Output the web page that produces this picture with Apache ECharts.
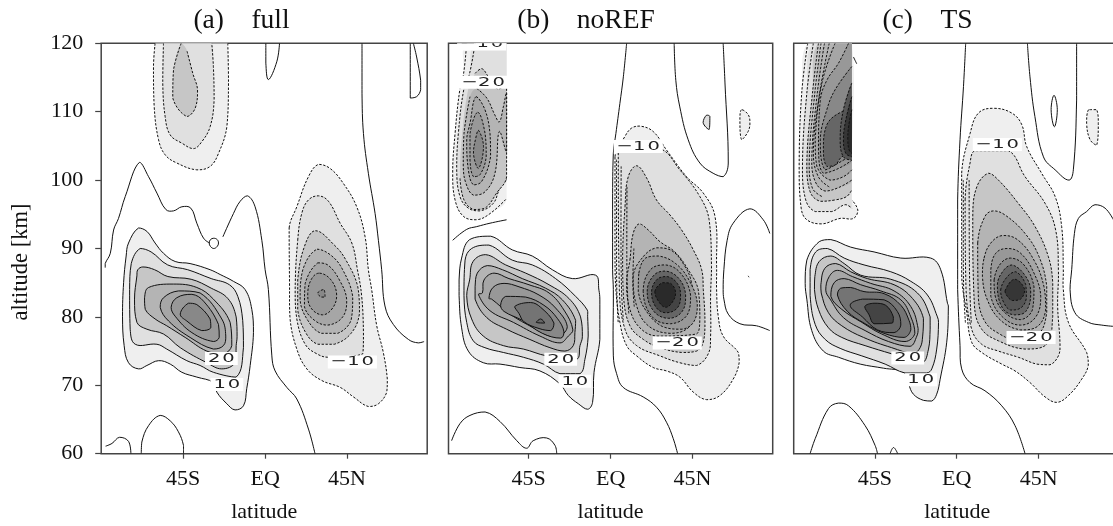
<!DOCTYPE html>
<html>
<head>
<meta charset="utf-8">
<style>html,body{margin:0;padding:0;background:#fff}#chart{width:1113px;height:526px}</style>
<script src="https://cdn.jsdelivr.net/npm/echarts@6/dist/echarts.min.js"></script>
</head>
<body>
<div id="chart"></div>
<script>
const latTicks = [-45, 0, 45];
const latLabels = ["45S", "EQ", "45N"];
const altTicks = [60, 70, 80, 90, 100, 110, 120];
const titles = ["(a)\u00a0\u00a0\u00a0\u00a0full", "(b)\u00a0\u00a0\u00a0\u00a0noREF", "(c)\u00a0\u00a0\u00a0\u00a0TS"];

// contour lines as [latitude, altitude]; panel (a)
const aZero1 = [[-87.8,87.2],[-87.8,87.8],[-85,89.3],[-83.2,92.7],[-80.5,94.4],[-76.8,97.6],[-69,102.6],[-64,100.5],[-59.4,98.1],[-54.5,95.7],[-50.3,95.5],[-45.7,96.1],[-40.8,95.9],[-37.5,93.7],[-33.8,91.5],[-30.5,90.8]];
const aZero2 = [[-23.2,91.7],[-17.4,95.1],[-13.7,96.9],[-9.7,97.7],[-5.5,96.1],[-1.8,91.2],[0,86.9],[1.8,84],[3.7,74.3],[5.5,72.1],[11.9,69.7],[17.4,68],[23.8,63.6],[27.4,60]];
const aRing = [[-30.7,90.8],[-30,91.3],[-28.2,91.5],[-26.3,91.3],[-25.6,90.8],[-26.3,90.3],[-28.2,90],[-30,90.3]];
const aZero3 = [[-87.6,61.1],[-84.1,61.5],[-79.9,62.4],[-75,61.8],[-73.7,60]];
const aZero4 = [[-68,60],[-67.7,61.7],[-64,64.1],[-57.6,65.6],[-52.1,64.8],[-47.6,63.2],[-44.8,61.2],[-44.8,60]];
const aZero5 = [[53.2,120],[53.2,112.7],[54,106.8],[56.7,101],[60.4,95.1],[62.2,91.2],[64,86.9],[65.8,81.6],[70.4,78.9],[78.7,76.7],[84.1,76.2],[87.3,76.4]];
const aZero6 = [[0.4,120],[0.4,117.1],[1.8,114.7],[6.4,117.3],[7.9,120]];
const aZero7 = [[81.4,120],[83.2,118],[85.4,114.6],[85.4,113.2],[83.2,112.2],[79.7,112],[79.7,120]];
const aTop1 = [[-60.4,120],[-61.3,116.6],[-60.9,110.7],[-58.5,105.9],[-54.9,103.7],[-48.5,102.5],[-37.5,101.5],[-30.2,102],[-25.6,103.9],[-21,107.8],[-20.1,114.2],[-20.5,120]];
const aTop2 = [[-55.8,120],[-56.2,114.2],[-54.9,109.3],[-52.1,106.6],[-45.7,105.4],[-39.3,104.6],[-34.8,105.6],[-30.2,107.8],[-28,111.7],[-28.4,116.6],[-29.3,120]];
const aTop3 = [[-46.1,120],[-50.3,116.1],[-50.7,112],[-43,109.3],[-38.4,110.5],[-37.1,113.2],[-39.7,115.6],[-43,119]];
const aPos1 = [[-75,90.8],[-69.5,93],[-64.9,92.5],[-60.4,90.8],[-55.8,89.3],[-49.4,88.1],[-41.2,87.8],[-30.2,86.9],[-24.7,86.2],[-17.4,85.2],[-11,84],[-7.3,81.1],[-6.4,77.7],[-8.2,72.9],[-10.1,69.5],[-11.9,67],[-16.5,66.4],[-21,67.3],[-26.5,69],[-28.4,70.4],[-37.5,71.2],[-45.7,71.9],[-52.1,73.1],[-58.5,73.6],[-64.9,72.9],[-69.5,72.4],[-75,73.3],[-77.4,75.8],[-78.3,80.1],[-77.7,85],[-76.3,88.9]];
const aPos2 = [[-73.5,87.8],[-68.6,90],[-62.6,89.5],[-53.5,87.6],[-42.5,86.9],[-29.6,85.6],[-19.6,84.7],[-15,83],[-12.3,79.5],[-11.9,75.5],[-15.9,71.2],[-28.4,71.9],[-35.7,72.9],[-43,73.6],[-54,75.3],[-59.4,76],[-71.3,76],[-74.1,78.2],[-74.4,84]];
const aPos3 = [[-69.9,86.9],[-67.1,87.3],[-60.7,86.9],[-53.4,85.9],[-40.6,85.5],[-29.6,84.2],[-20.5,82.7],[-15.9,80],[-15.4,77.1],[-15.9,75.8],[-16.5,73.3],[-23.8,72.4],[-32,73.3],[-46.6,75.5],[-55.8,77.5],[-64.9,78.2],[-70.4,79.2],[-71.7,82.6],[-70.4,86]];
const aPos4 = [[-66.2,82.8],[-64,84.3],[-50.3,84.8],[-37.5,84.3],[-28.4,82.6],[-19.2,79.2],[-18.3,75.8],[-22.9,74.6],[-32,75],[-43.9,77],[-54,78.7],[-60.4,79.7],[-65.8,81.1]];
const aPos5 = [[-57.6,81.4],[-55.8,82.8],[-47.6,83.8],[-35.7,83.5],[-23.8,79.7],[-21.6,77.2],[-22.9,75.8],[-28.4,75.3],[-41.2,77],[-53,79.4]];
const aPos6 = [[-51.6,81.4],[-48.5,82.8],[-40.2,83.3],[-33.8,82.3],[-25.6,78.9],[-25.2,77],[-28.4,76.4],[-40.2,77.7],[-49.4,80.1]];
const aPos7 = [[-46.6,80.4],[-42.1,82],[-37.5,81.8],[-30.2,79.7],[-29.8,78.4],[-34.8,78],[-43,79.4]];
const aNeg1 = [[13.2,93],[17.4,96.1],[23.8,100.5],[29.3,102.3],[35.7,101.7],[43,99.5],[50.3,96.1],[54.9,91.7],[56.7,86.9],[58.5,84],[61.3,78.7],[64.9,74.8],[67.1,70.9],[66.8,69],[62.2,67.3],[56.7,66.9],[48.5,68.3],[41.2,69.7],[31.1,70.7],[22.9,72.4],[17.4,75.3],[13.7,79.7],[13.4,85]];
const aNeg2 = [[17.9,91.2],[20.1,95.1],[23.8,97.1],[29.3,97.7],[34.8,96.9],[41.2,93.7],[47.6,90.8],[50.7,86.9],[53,83.1],[54,77.7],[53.6,74.6],[34.8,74.1],[28.4,74.6],[22,76],[17.4,79.7],[16.5,84]];
const aNeg3 = [[27.6,92.6],[38,90.5],[44.4,88.3],[50.9,84.4],[51.8,80.5],[47.2,77.6],[38,76],[28.9,76],[22.5,77.6],[17.9,81],[17.9,85.4],[21.6,90.3]];
const aNeg4 = [[28.5,89.9],[36.2,89],[42.6,86.9],[48.1,83],[47.2,79.5],[39.9,77.6],[30.7,77.6],[23.4,79.5],[19.2,82.5],[20.7,86.9]];
const aNeg5 = [[28.9,87.9],[34.4,87.6],[40.8,85.4],[44.8,82.5],[42.6,80],[34.4,78.8],[27.1,79.5],[21.6,81.5],[22,84.9]];
const aNeg6 = [[29.8,86.4],[36.2,85.4],[39.3,83.2],[37.1,81.3],[31.6,80.3],[25.2,81.3],[23.4,83.4],[25.6,85.6]];
const aNeg7 = [[28.9,83.5],[32.2,84],[32.9,82.9],[30.7,82.9]];

// panel (b)
const bZero1 = [[8.8,120],[7,115.1],[5.1,111.2],[2.9,106.8],[1.5,103.9],[1.1,97.1],[1.1,86.9],[1.5,84],[1.5,74.3],[3.3,71.7],[6.9,69.7],[17.9,68.3],[25.2,66.8],[30.7,64.6],[34.4,62.2],[36.8,60]];
const bZero2 = [[34.9,120],[35.8,114.6],[38,110.7],[42.6,105.9],[49,102.5],[56.3,101],[61.8,100.5],[64.6,102.5],[62.8,114.2],[61.8,120]];
const bZero3 = [[87.4,92.2],[83.8,94.2],[76.5,95.8],[67.3,93.7],[64,91.2],[62.2,86.9],[61.8,84],[62.2,82.6],[64.6,80.4],[71,79],[80.1,78.7],[87.4,78]];
const bZero4 = [[-87.3,61.9],[-82.7,64.4],[-77.2,65.6],[-68.9,66.1],[-60.7,64.7],[-51.5,61.9],[-46.1,60.8],[-42.5,61.9],[-35.1,62.3],[-30.5,61.2],[-29.6,60]];
const bZero5 = [[-86.7,91.2],[-79,92.8],[-73.5,93.2],[-66.2,93.7],[-57.1,94.2]];
const bDot = [[75.5,86],[76,85.8]];
const bIsle1 = [[52.7,109.5],[50.8,108.4],[54.1,107.4],[54.5,109.3]];
const bIsle2 = [[71.9,110.3],[71,108.9],[71.9,105.9],[75.5,107.1],[76.5,108.4],[75.5,109.6]];
const bTop1 = [[-79,120],[-80.8,115.4],[-82.7,113.4],[-85.4,106.8],[-86.7,101],[-85.4,97.1],[-80.8,94.7],[-73.5,94.2],[-66.2,95.1],[-57.1,97.3],[-57.1,120]];
const bTop2 = [[-74.4,120],[-77.6,115.4],[-80.5,113.4],[-83.6,106.8],[-84.5,101.5],[-82.7,97.6],[-78.1,95.9],[-71.7,95.5],[-64.4,96.6],[-61.1,98.6],[-57.1,100.1],[-57.1,120]];
const bTop3 = [[-74.4,115.6],[-70.8,116.3],[-67.1,115.1],[-62.6,113.4],[-57.1,113.4],[-57.1,100.5],[-62.6,98.1],[-68.9,95.9],[-75.3,95.7],[-80.5,97.1],[-82.7,100.3],[-81.8,105.9],[-78.1,113.4]];
const bTop4 = [[-73.5,113.4],[-68,112],[-63.5,109.5],[-61.1,108.5],[-58.9,110.7],[-57.1,112.7],[-57.1,104.2],[-61.1,107.1],[-63.5,101],[-68.9,98.3],[-75.3,97.8],[-79.4,99.5],[-80.9,102],[-80.5,106.8],[-77.2,112.2]];
const bTop5 = [[-73.9,112.2],[-69,110.3],[-66.2,106.8],[-65.9,103.4],[-70.8,99.8],[-75.3,99.3],[-78.1,101.5],[-79,105.9],[-77.2,108.3]];
const bTop6 = [[-72.9,109.9],[-68.9,106.8],[-68.3,103.4],[-71.7,100.8],[-75.3,100.5],[-77.2,102.9],[-77.2,106.8]];
const bTop7 = [[-72.6,107.3],[-69.8,104.9],[-72.6,101.7],[-75.3,103.9],[-73.9,106.3]];
const bPos1 = [[-83.2,85.4],[-81.8,88.6],[-77.4,91.3],[-65.8,91.8],[-54,89.8],[-43,88.9],[-32,86.9],[-21,85.6],[-8.2,86.1],[-6.4,83.9],[-5.9,82.6],[-5.9,76.7],[-9.1,71.9],[-9.9,67.5],[-12.6,66.5],[-17.7,67.3],[-23.2,68.5],[-27.8,70.2],[-38.8,72.1],[-49.8,72.6],[-60.7,73.1],[-69.9,73.3],[-78.1,75],[-81.8,78.4],[-83.2,83.1]];
const bPos2 = [[-79.9,88.3],[-76.3,90],[-66.8,90.5],[-54,88.3],[-43,87.6],[-30.2,85.6],[-19.2,83],[-12.8,81],[-12.6,80.1],[-12.3,77.2],[-14.1,73.8],[-16.8,71.7],[-27.8,71.7],[-36.9,73.1],[-47.9,74.1],[-58.9,74.8],[-69,75.5],[-75.4,76.5],[-79,79.2],[-80.5,83.1]];
const bPos3 = [[-77.4,85.4],[-75.5,88.1],[-68.6,89.1],[-57.6,87.6],[-46.6,86.4],[-33.8,84.7],[-22.9,82.7],[-16.5,80],[-15.5,77.1],[-16.8,75.8],[-18.7,73.8],[-35.1,74.3],[-47.9,75.3],[-58.9,75.8],[-69.9,77.2],[-76.3,79.7],[-79,83.1]];
const bPos4 = [[-74.4,84.4],[-73.2,86.4],[-67.7,87.5],[-59.4,86.9],[-48.5,85.6],[-35.7,84.2],[-26.5,82.5],[-19.2,79.5],[-19.6,77.7],[-20.5,75.8],[-25.1,75],[-33.3,75.5],[-44.3,76.7],[-57.1,78.2],[-68,79.9],[-74.4,82.6]];
const bPos5 = [[-70.4,83.5],[-69.5,85.4],[-64,86.4],[-55.8,85.6],[-44.8,84.7],[-33.8,83.5],[-25.6,81],[-20.7,78.1],[-23.2,77.2],[-27.8,76.2],[-38.8,77.2],[-53.4,79.2],[-66.2,80.9],[-72.6,83.3]];
const bPos6 = [[-66.8,82.7],[-64.6,84.3],[-58.5,84.9],[-50.3,84.4],[-39.3,83.2],[-30.2,81.3],[-23.8,78.6],[-27.8,77.2],[-33.3,77.2],[-42.4,78.4],[-55.2,80.4],[-65.3,82.6]];
const bPos7 = [[-60.4,81.7],[-57.6,83],[-46.6,82.9],[-36.6,81.7],[-29.3,79.8],[-25.6,77.8],[-27.4,76.9],[-37.5,77.6],[-48.5,79.5],[-58.5,80.8]];
const bPos8 = [[-52.7,81.5],[-43.9,82.1],[-38.4,81.4],[-31.1,79.1],[-32.9,78],[-39.3,78.3],[-47.6,79.3],[-50.3,80.5]];
const bPos9 = [[-40.8,79.2],[-38.4,79.7],[-36.2,79.1]];
const bNeg1 = [[2.4,103.4],[7.9,106.4],[11.5,107.6],[16.1,107.9],[23.4,107.1],[30.7,104.4],[41.7,100.5],[50.9,98.1],[57.3,94.7],[58.2,87.4],[58.2,84],[59.1,80.1],[61.8,77.2],[70.1,74.8],[70.6,73.3],[67.3,70.9],[60,68.5],[52.7,67.9],[45.4,69],[38,71.2],[30.7,72.1],[23.4,72.6],[14.3,74.3],[8.8,75.8],[5.1,79.2],[2.9,84],[2.4,88.9]];
const bNeg2 = [[4.2,104.6],[27.1,104.6],[38,101.5],[49,97.6],[54.1,94.2],[55.4,87.4],[54.9,83.1],[54.9,77.2],[53.6,74.6],[47.2,72.9],[38,73.3],[27.1,74.3],[14.3,75.8],[7.9,78.2],[4.8,84]];
const bNeg3 = [[7.9,96.1],[9.7,100.5],[14.3,102.1],[19.8,100.3],[25.2,97.1],[32.6,94.9],[39,92.7],[45.4,89.8],[50,86.9],[50.9,84],[51.8,79.2],[50.9,76.3],[47.2,75],[39,74.8],[27.1,75.5],[18,76.7],[10.6,78.7],[7,83.1],[6.6,88.9]];
const bNeg4 = [[10.6,88.3],[12.4,92.2],[15.7,93.6],[20.7,92.7],[27.1,91],[35.3,89.5],[42.6,86.9],[48.1,84],[49,79.7],[47.2,77.5],[25.2,77.2],[16.1,78.4],[10.6,81.1],[8.8,85]];
const bNeg5 = [[17.9,88.8],[25.2,90.1],[33.5,89.7],[40.8,87.4],[44.4,85],[45.7,80.6],[42.6,78.4],[32.6,77.6],[20.7,78.7],[14.3,81.6],[12.4,86]];
const bNeg6 = [[15.5,86.4],[19.2,88.6],[26.5,88.9],[35.7,87.8],[43,85.4],[47.6,82],[45.7,79.3],[39.3,78.2],[28.4,78.6],[19.2,81],[15.2,83.7]];
const bNeg7 = [[17.9,83.7],[21.9,86.9],[30.2,87.6],[38.4,86.4],[43.9,83.2],[42.1,80.3],[32.9,79],[22.9,80]];
const bNeg8 = [[20.1,83.7],[23.8,86.1],[30.2,86.7],[37.5,85.6],[41.2,83.2],[39.3,80.8],[32,79.8],[23.8,80.8]];
const bNeg9 = [[22.5,83.7],[25.6,85.5],[31.1,85.9],[36.6,84.9],[38.4,83.2],[36.6,81.3],[30.2,80.6],[24.7,81.5]];
const bNeg10 = [[24.3,83.7],[28.4,85],[33,84.9],[35.7,83.5],[33.5,82],[30.2,81.4],[26.5,82.2]];
const bDash1 = [[3.2,103],[3.3,92],[3.4,84],[4.2,79]];
const bDash2 = [[5.8,102],[5.7,92],[6,84],[7,79.5]];
const bDash3 = [[9,99],[8.9,90],[9.2,84],[10,80.5]];
const bDash4 = [[12.8,90],[12.2,85],[13,81.5]];

// panel (c)
const cZero1 = [[4.9,120],[3.7,113.7],[1.8,105.9],[0.5,97.1],[0.5,86.9],[0.5,84],[1.8,75.8],[2.7,72.4],[7.3,70.4],[15.5,69.2],[24.7,67],[32,64.1],[37.5,60]];
const cZero2 = [[38.8,120],[40.2,115.1],[42.9,109.3],[47.6,103.4],[54,101.5],[61.6,100],[64,101.5],[65.8,111.7],[65.8,120]];
const cZero3 = [[86,94.2],[81.4,95.9],[75.9,96.4],[71.3,95.4],[66.8,94.4],[64.6,92.2],[63.1,86.9],[62.2,84],[64.9,80.6],[72.3,79.2],[79.6,78.8],[86.9,78.6]];
const cZero4 = [[-80.5,60],[-77.7,62.2],[-70.4,66.6],[-64.9,67.4],[-59.4,67],[-50.3,64.1],[-44.8,61.2],[-43.5,60]];
const cZero5 = [[-36.6,60],[-34.7,60.9],[-32.4,60]];
const cZero6 = [[-87.3,90.2],[-80.5,91.7],[-74.1,92.2],[-63.1,92.4],[-53.9,91.9]];
const cTick = [[-56.7,118],[-54.9,117]];
const cIsle1 = [[53.4,112.4],[51.8,110.3],[53.6,107.8],[55.2,110.3]];
const cIsle2 = [[72.3,110.3],[71.3,108.3],[73.2,105.9],[76.8,105.1],[77.7,108.3],[76.8,110.3]];
const cTop1 = [[-81.8,120],[-85.1,112.7],[-86.5,102],[-85.4,95.9],[-82.3,94.2],[-74.1,93.6],[-64,94.4],[-56.7,94.4],[-54.3,95.6],[-57.6,97.1],[-57.6,120]];
const cTop2 = [[-78.7,120],[-82.3,112.7],[-84.7,102],[-82.9,97.1],[-77.7,95.4],[-68.6,95.4],[-61.3,96.4],[-57.6,95.9],[-57.6,120]];
const cTop3 = [[-75.9,120],[-79.2,112.7],[-82.3,102.5],[-80.5,98.3],[-75,96.9],[-66.8,97.1],[-60.4,97.6],[-57.6,98.6],[-57.6,120]];
const cTop4 = [[-72.6,120],[-76.8,112.2],[-79.6,103],[-77.7,99.8],[-72.3,98.4],[-64.9,98.9],[-57.6,100],[-57.6,120]];
const cTop5 = [[-66.8,120],[-74,114.2],[-77.7,105.9],[-76.8,102],[-69.5,100],[-62.2,100.5],[-57.6,101.5],[-57.6,120]];
const cTop6 = [[-59.4,120],[-64.9,117.1],[-71.3,114.6],[-74.9,111.7],[-75.9,104.4],[-73.2,101],[-64.9,101.7],[-57.6,102.9],[-57.6,120]];
const cTop7 = [[-57.6,116.6],[-66.8,113.2],[-71.3,110.3],[-74.9,105.9],[-72.3,101.5],[-64.9,102.5],[-57.6,103.7]];
const cTop8 = [[-57.6,110],[-63.1,110],[-71.3,108.1],[-73.2,104.4],[-71.3,102],[-66.8,102.2],[-63.1,103.4],[-57.6,103.9]];
const cTop9 = [[-57.6,114.2],[-62.2,110.3],[-64,105.9],[-62.2,103.4],[-57.6,102.9]];
const cTop10 = [[-57.6,112.2],[-60.9,108.8],[-62.2,105.9],[-60.9,103.9],[-57.6,103.4]];
const cTop11 = [[-57.6,110.3],[-59.4,107.8],[-59.8,105.9],[-59.1,104.4],[-57.6,103.9]];
const cTopDash1 = [[-74.5,120],[-78,112.5],[-81,102.5],[-79.2,98.8],[-74,97.6]];
const cTopDash2 = [[-70,120],[-75.5,112.3],[-78.7,104],[-76,100.5],[-70,99]];
const cPos1 = [[-83.2,84.9],[-82.3,88.3],[-75.5,91],[-69.1,91.3],[-58.2,90.2],[-45.4,89.5],[-30.7,88.6],[-14.3,88.6],[-8.8,86.9],[-5.1,82],[-4.6,81.6],[-5.5,76.3],[-9.1,70.9],[-11,68.7],[-13.7,67.7],[-18.3,67.8],[-23.8,68.7],[-26.5,70.2],[-29.3,71.9],[-40.2,72.5],[-53,73.1],[-64.9,74.1],[-73.2,75],[-79.6,78],[-82.3,82.6]];
const cPos2 = [[-80.5,86.9],[-77.4,89.5],[-71,90],[-61.8,88.6],[-50.9,87.6],[-36.2,86.6],[-25.2,85.2],[-16.1,83.2],[-10.6,80],[-10,79.2],[-11,75.3],[-13.7,72.4],[-16.5,71.8],[-28.4,71.8],[-39.3,73.1],[-52.1,74.3],[-64,75.4],[-72.2,76.7],[-77.7,78.9],[-80.5,83.1]];
const cPos3 = [[-77.9,85.9],[-75.5,88.1],[-69.1,88.9],[-61.8,87.8],[-52.7,86.1],[-36.2,85.5],[-21.6,83.5],[-14.6,80],[-14.6,78.2],[-15.5,75.3],[-19.2,73.3],[-35.7,74.6],[-50.3,75.8],[-63.1,77],[-70.4,78.4],[-75.9,81.1],[-78.1,84]];
const cPos4 = [[-74.6,84.7],[-72.4,87.1],[-66.4,87.8],[-58.2,86.6],[-49,85.6],[-34.4,84.7],[-24.3,82.7],[-18.3,79.8],[-18.7,77.2],[-20.1,75.5],[-23.8,74.7],[-35.7,75.5],[-51.2,77],[-63.1,78.7],[-70.4,80.6],[-74.4,83.5]];
const cPos5 = [[-71.9,83.9],[-70,85.9],[-65.5,86.8],[-57.3,85.9],[-47.2,84.9],[-34.4,83.8],[-25.2,81.5],[-21.2,78.3],[-21.9,77.2],[-25.6,75.7],[-37.5,76.4],[-50.3,78],[-62.2,79.9],[-69.5,82.6]];
const cPos6 = [[-69.1,83],[-67.3,85],[-61.8,85.6],[-52.7,84.7],[-41.7,83.8],[-30.7,82.5],[-25.2,80],[-23,77.6],[-28.4,76.4],[-41.2,77.5],[-52.1,79.2],[-63.1,81.1]];
const cPos7 = [[-65.5,83.2],[-63.7,84.2],[-58.2,84.3],[-50.9,83.7],[-39.9,83.4],[-30.7,81.7],[-26.2,79.5],[-25.2,78.1],[-28.9,77],[-39.9,77.6],[-50.9,79.1],[-60,80.8]];
const cPos8 = [[-58.5,81.7],[-51.8,82.6],[-39.9,82.5],[-32.6,80.8],[-30.7,78.8],[-34.4,77.7],[-43.5,78.1],[-51.8,80]];
const cPos9 = [[-50.5,81.5],[-45.4,82],[-39,81.7],[-34.8,80],[-35.3,79.1],[-45.4,79],[-48.1,80.3]];
const cNeg1 = [[2.7,101],[7.3,106.8],[11.9,109.8],[20.1,110.5],[30.2,109.8],[35.7,108.1],[38.4,104.9],[46.6,101],[54,97.6],[57.6,93.2],[58.5,86.9],[58.5,84],[61.3,79.2],[71.3,74.8],[72.2,72.9],[68.6,70.9],[61.3,68.5],[54.9,67.5],[48.5,68.3],[40.2,70.4],[32,72.1],[24.7,73.1],[13.7,74.8],[8.2,76.3],[5.5,80.6],[2.7,86]];
const cNeg2 = [[4.6,97.1],[7.3,102.5],[10.1,104.3],[28.4,104.3],[37.5,100.5],[48.5,96.6],[54.3,92.7],[55.8,86.9],[55.4,81.6],[56.7,75.8],[55.8,74.3],[51.2,73],[43.9,73.1],[33.8,74.1],[22.9,75],[13.7,76],[8.2,78.2],[5.1,84]];
const cNeg3 = [[8.8,94.7],[11,99],[17.4,101],[22.9,100],[33.8,96.6],[43,93.2],[50.3,88.8],[52.7,85],[52.7,80.1],[49.4,76],[37.5,75.3],[22.9,76.5],[13.7,78.2],[9.7,81.6]];
const cNeg4 = [[11.5,90.8],[15.5,94.7],[20.1,95.5],[26.5,94.9],[37.5,92.2],[45.2,88.8],[49.4,84.5],[49.4,80.6],[44.8,77.5],[32,76.7],[22.9,77.6],[15.5,79.3],[11.9,82.6]];
const cNeg5 = [[15,88.6],[18.7,90.8],[25.1,91.9],[33.3,91.3],[42.4,88.3],[47.9,84.4],[48.8,81],[44.3,78.6],[35.1,78.1],[24.1,79.5],[16.8,82.5],[14.1,85.9]];
const cNeg6 = [[18.7,86.9],[21.4,89.3],[27.8,90],[35.1,89.3],[42.4,86.4],[46.1,83],[43.4,80],[35.1,78.8],[25.1,80],[18.7,83]];
const cNeg7 = [[20.5,85.4],[24.1,87.8],[29.6,88.6],[36.9,87.6],[42.4,84.4],[41.5,81],[35.1,79.6],[26.9,80.5],[21.4,82.7]];
const cNeg8 = [[22.3,84.7],[26,86.9],[30.5,87.6],[37.9,85.9],[40.6,83.5],[37.9,80.8],[31.5,80.3],[25.1,81.3]];
const cNeg9 = [[24.1,83.9],[27.8,85.9],[32.4,86.6],[37.9,84.7],[38.2,82.7],[35.1,81.3],[29.6,81],[26,82]];
const cNeg10 = [[26.5,83.8],[31.8,85.5],[37.3,84],[35.1,82.6],[30.5,82.4],[27.8,83]];
const cDash1 = [[3.6,100],[3.6,90],[3.8,84],[4.8,79]];
const cDash2 = [[6.8,100],[6.9,90],[7.2,84],[8,79]];

// contour labels: latitude, altitude, text
const aLabels = [[-24,73.9,"20"],[-21,70.1,"10"],[47.9,73.4,"\u221210"]];
const bLabels = [[-27.4,73.8,"20"],[-19.6,70.6,"10"],[15.2,104.9,"\u221210"],[36.6,76.2,"\u221220"],[-69.9,114.3,"\u221220"],[-70.8,119.9,"\u221210"]];
const cLabels = [[-26.9,74,"20"],[-19.8,70.8,"10"],[22.3,105.2,"\u221210"],[40.8,77,"\u221220"]];

const grays = ["none","#efefef","#e0e0e0","#c6c6c6","#b4b4b4","#a6a6a6","#989898","#888888","#747474","#666666","#555555","#444444","#363636","#2a2a2a"];

// line: plain open contour; ring: closed contour; capped: filled, stroke left open, tail = closing points not stroked
const line = (pts) => ({ pts, level: 0, dashed: false, open: true, tail: 0 });
const dash = (pts) => ({ pts, level: 0, dashed: true, open: true, tail: 0 });
const ring = (pts, level, dashed) => ({ pts, level, dashed, open: false, tail: 0 });
const capped = (pts, level, dashed, tail) => ({ pts, level, dashed, open: true, tail: tail || 0 });

const aContours = [
    capped(aTop1,1,true), capped(aTop2,2,true), capped(aTop3,3,true),
    ring(aNeg1,1,true), ring(aNeg2,2,true), ring(aNeg3,3,true), ring(aNeg4,4,true), ring(aNeg5,5,true), ring(aNeg6,6,true), ring(aNeg7,7,true),
    ring(aPos1,1,false), ring(aPos2,2,false), ring(aPos3,3,false), ring(aPos4,4,false), ring(aPos5,5,false), ring(aPos6,6,false), ring(aPos7,7,false),
    line(aZero1), line(aZero2), ring(aRing,0,false), line(aZero3), line(aZero4), line(aZero5), line(aZero6), line(aZero7),
];
const bContours = [
    capped(bTop1,1,true,1), capped(bTop2,2,true,1), capped(bTop3,3,true,2), capped(bTop4,4,true,0),
    ring(bTop5,5,true), ring(bTop6,6,true), ring(bTop7,7,true),
    ring(bNeg1,1,true), ring(bNeg2,2,true), ring(bNeg3,3,true), ring(bNeg4,4,true), ring(bNeg5,5,true), ring(bNeg6,6,true), ring(bNeg7,7,true), ring(bNeg8,9,true), ring(bNeg9,11,true), ring(bNeg10,13,true),
    dash(bDash1), dash(bDash2), dash(bDash3), dash(bDash4),
    ring(bPos1,1,false), ring(bPos2,2,false), ring(bPos3,3,false), ring(bPos4,4,false), ring(bPos5,5,false), ring(bPos6,6,false), ring(bPos7,7,false), ring(bPos8,8,false), ring(bPos9,9,false),
    line(bZero1), line(bZero2), line(bZero3), line(bZero4), line(bZero5), line(bDot), ring(bIsle1,2,false), ring(bIsle2,1,true),
];
const cContours = [
    capped(cTop1,1,true,1), capped(cTop2,2,true,1), capped(cTop3,3,true,1), capped(cTop4,4,true,1), capped(cTop5,5,true,1), capped(cTop6,6,true,1),
    capped(cTop7,7,true), capped(cTop8,9,true), capped(cTop9,10,true), capped(cTop10,12,true), capped(cTop11,13,true),
    dash(cTopDash1), dash(cTopDash2),
    ring(cNeg1,1,true), ring(cNeg2,2,true), ring(cNeg3,3,true), ring(cNeg4,4,true), ring(cNeg5,5,true), ring(cNeg6,6,true), ring(cNeg7,7,true), ring(cNeg8,9,true), ring(cNeg9,10,true), ring(cNeg10,12,true),
    dash(cDash1), dash(cDash2),
    ring(cPos1,1,false), ring(cPos2,2,false), ring(cPos3,3,false), ring(cPos4,4,false), ring(cPos5,5,false), ring(cPos6,6,false), ring(cPos7,8,false), ring(cPos8,9,false), ring(cPos9,11,false),
    line(cZero1), line(cZero2), line(cZero3), line(cZero4), line(cZero5), line(cTick), ring(cIsle1,0,false), ring(cIsle2,1,true),
];

const serif = "'Liberation Serif', 'Times New Roman', serif";
const tickSize = 22;
const axisColor = "#444";
const smooth = 0.4;

function contourSeries(contours, panel) {
    return {
        type: "custom",
        xAxisIndex: panel,
        yAxisIndex: panel,
        coordinateSystem: "cartesian2d",
        clip: true,
        silent: true,
        data: contours.map((c, i) => [i]),
        renderItem: (params, api) => {
            const c = contours[api.value(0)];
            const pts = c.pts.map((p) => api.coord(p));
            // constraint box is the point set itself, so curves stay off the cut edges
            const box = [pts[0], pts[0]];
            const children = [];
            if (c.level > 0) {
                children.push({
                    type: "polygon",
                    shape: { points: pts, smooth: smooth, smoothConstraint: box },
                    style: { fill: grays[c.level], stroke: "none" },
                });
            }
            children.push({
                type: c.open ? "polyline" : "polygon",
                shape: {
                    points: c.tail ? pts.slice(0, pts.length - c.tail) : pts,
                    smooth: smooth,
                    smoothConstraint: box,
                },
                style: { fill: "none", stroke: "#111", lineWidth: 1, lineDash: c.dashed ? [2.4, 1.6] : null },
            });
            return { type: "group", children };
        },
    };
}

function labelSeries(labels, panel) {
    return {
        type: "custom",
        xAxisIndex: panel,
        yAxisIndex: panel,
        coordinateSystem: "cartesian2d",
        clip: true,
        silent: true,
        z: 5,
        data: labels.map((l, i) => [i]),
        renderItem: (params, api) => {
            const l = labels[api.value(0)];
            const p = api.coord([l[0], l[1]]);
            return {
                type: "text",
                x: p[0],
                y: p[1],
                scaleX: 1.5,
                style: {
                    text: l[2].replace(/(\d)(\d)/, "$1\u200a$2"),
                    font: "13px 'DejaVu Sans', sans-serif",
                    fill: "#222",
                    align: "center",
                    verticalAlign: "middle",
                    backgroundColor: "#fff",
                    padding: [0, 2, 0, 2],
                },
            };
        },
    };
}

const gridBox = { show: true, outerBoundsMode: "none", borderColor: axisColor, borderWidth: 1.5, backgroundColor: "#fff", top: 43.3, height: 410.4 };
const grids = [
    { ...gridBox, left: 101.2, width: 326 },
    { ...gridBox, left: 448.5, width: 324.2 },
    { ...gridBox, left: 793.7, width: 327 },
];
const latRanges = [[-90, 89], [-89, 89], [-89.5, 90]];

const xAxes = latRanges.map((r, i) => ({
    type: "value",
    gridIndex: i,
    min: r[0],
    max: r[1],
    name: "latitude",
    nameLocation: "middle",
    nameGap: 48,
    nameTextStyle: { fontFamily: serif, fontSize: tickSize, color: "#111" },
    splitLine: { show: false },
    axisLine: { show: false, onZero: false },
    axisTick: { show: true, customValues: latTicks, length: 5, lineStyle: { color: axisColor, width: 1.2 } },
    axisLabel: {
        customValues: latTicks,
        margin: 15,
        fontFamily: serif,
        fontSize: tickSize,
        color: "#111",
        formatter: (v) => latLabels[latTicks.indexOf(v)],
    },
}));

const yAxes = [0, 1, 2].map((i) => ({
    type: "value",
    gridIndex: i,
    min: 60,
    max: 120,
    interval: 10,
    name: i === 0 ? "altitude [km]" : "",
    nameLocation: "middle",
    nameGap: 69,
    nameTextStyle: { fontFamily: serif, fontSize: 22.5, color: "#111", padding: [0, 27, 0, 0] },
    splitLine: { show: false },
    axisLine: { show: false, onZero: false },
    axisTick: { show: i === 0, length: 6, lineStyle: { color: axisColor, width: 1.2 } },
    axisLabel: {
        show: i === 0,
        margin: 18,
        fontFamily: serif,
        fontSize: tickSize,
        color: "#111",
        customValues: altTicks,
    },
}));

const titleCenters = [236.5, 581, 922.5];

const chart = echarts.init(document.getElementById("chart"), null, { renderer: "canvas" });
chart.setOption({
    animation: false,
    backgroundColor: "#fff",
    title: titles.map((t, i) => ({
        text: t,
        left: titleCenters[i],
        top: 2,
        textAlign: "center",
        textStyle: { fontFamily: serif, fontSize: 27.5, fontWeight: "normal", color: "#111" },
    })),
    grid: grids,
    xAxis: xAxes,
    yAxis: yAxes,
    series: [
        contourSeries(aContours, 0),
        labelSeries(aLabels, 0),
        contourSeries(bContours, 1),
        labelSeries(bLabels, 1),
        contourSeries(cContours, 2),
        labelSeries(cLabels, 2),
    ],
});
</script>
</body>
</html>
